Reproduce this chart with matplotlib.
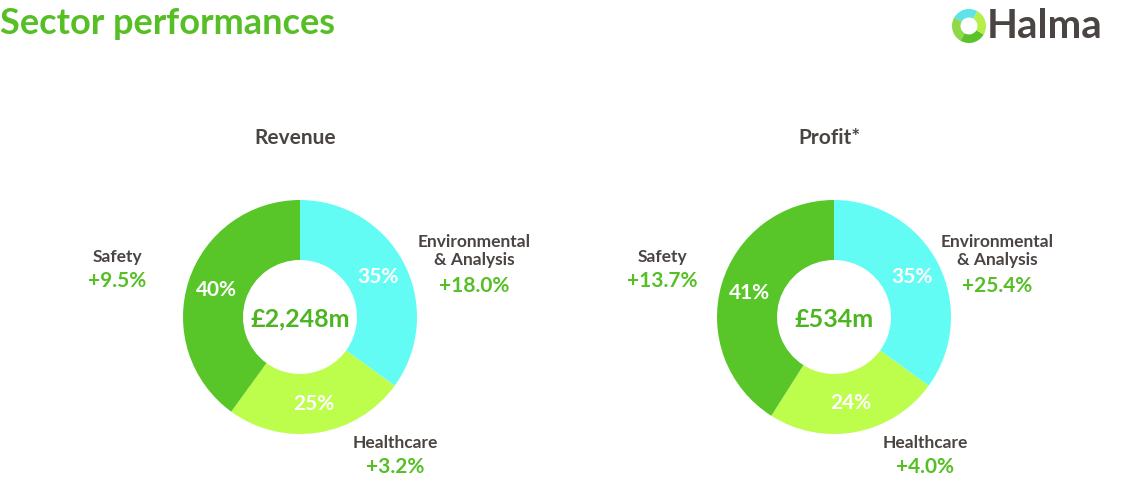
import matplotlib
matplotlib.use("Agg")
import matplotlib.pyplot as plt

plt.rcParams['font.family'] = ['Lato', 'DejaVu Sans']

# data
sectors = ['Environmental\n& Analysis', 'Healthcare', 'Safety']
revenue_share = [35, 25, 40]
profit_share = [35, 24, 41]
revenue_growth = ['+18.0%', '+3.2%', '+9.5%']
profit_growth = ['+25.4%', '+4.0%', '+13.7%']
revenue_total = '£2,248m'
profit_total = '£534m'

colors = ['#62FCF4', '#BDFD4B', '#58C629']
green = '#55BF25'
dark = '#4A4542'

W, H = 1125, 498
fig = plt.figure(figsize=(W / 100, H / 100), dpi=100)


def px(x, y):
    return x / W, 1 - y / H


def donut(cx, cy, shares, total, title, growth, label_pos):
    half = 120
    ax = fig.add_axes([(cx - half) / W, (H - cy - half) / H, 2 * half / W, 2 * half / H])
    ax.pie(shares, colors=colors, startangle=90, counterclock=False, radius=117 / half,
           wedgeprops=dict(width=60 / half, linewidth=0),
           autopct='%d%%', pctdistance=0.75,
           textprops=dict(color='white', fontsize=15, fontweight='bold'))
    ax.set_xlim(-1, 1)
    ax.set_ylim(-1, 1)
    ax.set_aspect('equal')
    ax.axis('off')
    ax.text(0, -0.02, total, ha='center', va='center', fontsize=18, fontweight='bold', color='#4DB521')

    fig.text(*px(cx - 5, 138), title, ha='center', va='center', fontsize=15, fontweight='bold', color=dark)
    for name, g, (lx, ly) in zip(sectors, growth, label_pos):
        n_lines = name.count('\n') + 1
        fig.text(*px(lx, ly), name, ha='center', va='center', fontsize=12.5,
                 fontweight='bold', color=dark, linespacing=1.2)
        gy = ly + 11 * n_lines + 13
        fig.text(*px(lx, gy), g, ha='center', va='center', fontsize=15,
                 fontweight='bold', color=green)


donut(300, 317, revenue_share, revenue_total, 'Revenue', revenue_growth,
      [(474, 251), (395, 443), (117, 257)])
donut(834, 317, profit_share, profit_total, 'Profit*', profit_growth,
      [(997, 251), (925, 443), (662, 257)])

# title
fig.text(*px(0, 23), 'Sector performances', ha='left', va='center', fontsize=26,
         fontweight='bold', color=green)

# logo
lax = fig.add_axes([(969 - 17) / W, (H - 26 - 17) / H, 34 / W, 34 / H])
lax.pie([1, 1, 1, 1], colors=['#5FE3E8', '#8ED84A', '#5CC22A', '#B6EE4A'], startangle=60,
        radius=1, wedgeprops=dict(width=0.5, linewidth=0))
lax.set_xlim(-1, 1)
lax.set_ylim(-1, 1)
lax.axis('off')
fig.text(*px(987, 27), 'Halma', ha='left', va='center', fontsize=29, fontweight='bold', color=dark)

fig.savefig('out.png', dpi=100, facecolor='white')
